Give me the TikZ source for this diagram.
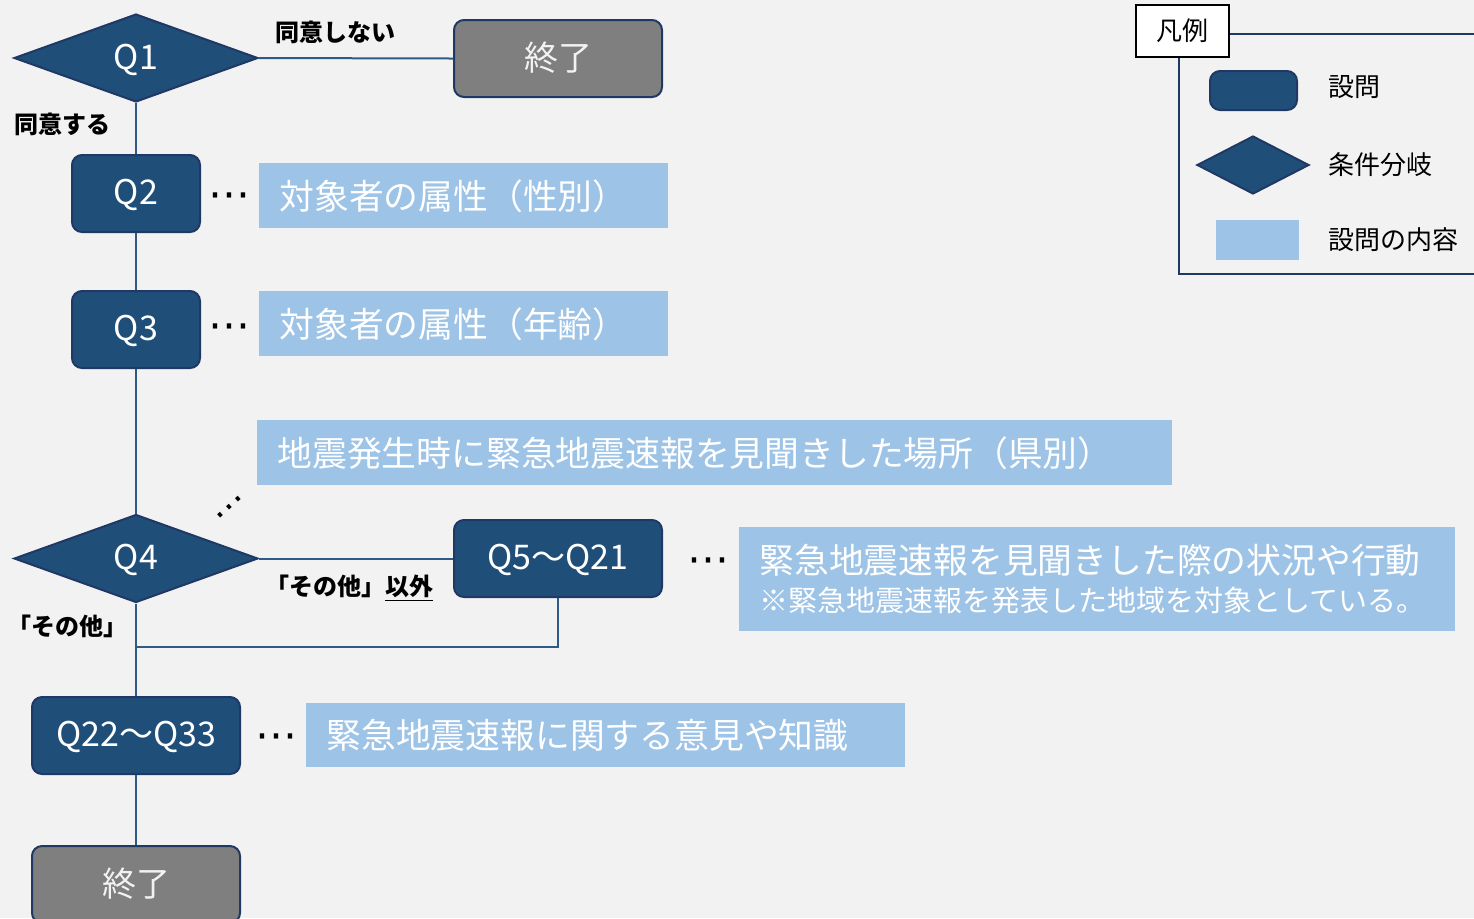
\documentclass[tikz,border=0pt]{standalone}
\usepackage{fontspec}
\setmainfont{Noto Sans CJK JP}
\newfontfamily\symfont{DejaVu Sans}
\usetikzlibrary{shapes.geometric}
\definecolor{bg}{HTML}{F2F2F2}
\definecolor{navy}{HTML}{1F4E79}
\definecolor{navyline}{HTML}{1F3864}
\definecolor{conn}{HTML}{2E5A88}
\definecolor{lightb}{HTML}{9DC3E6}
\definecolor{greybox}{HTML}{7F7F7F}
\tikzset{
  qbox/.style={draw=navyline, line width=1pt, fill=navy, rounded corners=5pt, text=white,
    font=\fontsize{17}{20}\selectfont, inner sep=0pt, minimum height=38.5pt,
    text height=11pt, text depth=0pt},
  endbox/.style={qbox, fill=greybox, text=bg, text height=12pt},
  qdia/.style={diamond, draw=navyline, line width=1pt, fill=navy, text=white,
    font=\fontsize{17}{20}\selectfont, inner sep=0pt, minimum width=122pt, minimum height=44pt,
    text height=11pt, text depth=0pt},
  desc/.style={fill=lightb, text=white, anchor=north west, inner xsep=10pt, inner ysep=0pt,
    align=left, font=\fontsize{17.4}{20}\selectfont},
  conn/.style={draw=conn, line width=1pt},
  lbl/.style={font=\fontsize{12}{14}\selectfont\bfseries, text=black, inner sep=0pt},
  dots/.style={font=\symfont\fontsize{21}{22}\selectfont, text=black, inner sep=0pt},
  legtxt/.style={font=\fontsize{13}{15}\selectfont, text=black, anchor=west, inner sep=0pt},
}
\begin{document}
\begin{tikzpicture}[x=0.5pt,y=-0.5pt]
\useasboundingbox (0,0) rectangle (1474,918);
\clip (0,0) rectangle (1474,918);
\fill[bg] (0,0) rectangle (1474,918);

% legend
\draw[navyline, line width=1.2pt] (1179,34) rectangle (1490,274);
\node[draw=black, line width=0.8pt, fill=white, minimum width=46.5pt, minimum height=26pt, inner sep=0pt,
  font=\fontsize{13}{15}\selectfont] (leg) at (1182.5,31) {凡例};
\node[qbox, minimum width=43.5pt, minimum height=19.5pt] (legq) at (1253.5,90.5) {};
\node[qdia, minimum width=56pt, minimum height=29pt] (legd) at (1253,165) {};
\node[fill=lightb, minimum width=41.5pt, minimum height=20pt, inner sep=0pt] (legc) at (1257.5,240) {};
\node[legtxt] (legqt) at (1328,87) {設問};
\node[legtxt] (legdt) at (1328,165) {条件分岐};
\node[legtxt] (legct) at (1328,240) {設問の内容};

% main flow nodes
\node[qdia] (q1) at (136,58) {Q1};
\node[endbox, minimum width=104pt] (end1) at (558,58.5) {終了};
\node[qbox, minimum width=64pt] (q2) at (136,193.5) {Q2};
\node[qbox, minimum width=64pt] (q3) at (136,329.5) {Q3};
\node[qdia] (q4) at (136,558.5) {Q4};
\node[qbox, minimum width=104pt] (q5) at (558,558.5) {Q5～Q21};
\node[qbox, minimum width=104pt] (q22) at (136,735.5) {Q22～Q33};
\node[endbox, minimum width=104pt] (end2) at (136,884.5) {終了};
\coordinate (join) at (136,647);

% descriptions
\node[desc, text width=184.5pt, minimum height=32.5pt] (d2) at (259,163) {対象者の属性（性別）};
\node[desc, text width=184.5pt, minimum height=32.5pt] (d3) at (259,291) {対象者の属性（年齢）};
\node[desc, text width=437.5pt, minimum height=32.5pt] (dpl) at (257,420) {地震発生時に緊急地震速報を見聞きした場所（県別）};
\node[desc, text width=338pt, minimum height=52pt] (d5) at (739,527)
  {緊急地震速報を見聞きした際の状況や行動\\[-1pt]{\fontsize{14.5}{16}\selectfont ※緊急地震速報を発表した地域を対象としている。}};
\node[desc, text width=279.5pt, minimum height=32pt] (d22) at (306,703) {緊急地震速報に関する意見や知識};

% ellipses
\node[dots] (e2) at (229,201) {⋯};
\node[dots] (e3) at (229,332) {⋯};
\node[dots, rotate=42, font=\symfont\fontsize{18}{20}\selectfont] (epl) at (232,510) {⋯};
\node[dots] (e5) at (708,566) {⋯};
\node[dots] (e22) at (276,742) {⋯};

% connectors
\draw[conn] (q1.east) -- (end1.west);
\draw[conn] (q1.south) -- (q2.north);
\draw[conn] (q2.south) -- (q3.north);
\draw[conn] (q3.south) -- (q4.north);
\draw[conn] (q4.east) -- (q5.west);
\draw[conn] (q4.south) -- (q22.north);
\draw[conn] (q5.south) |- (join);
\draw[conn] (q22.south) -- (end2.north);

% labels
\node[lbl] (l1) at (335,32) {同意しない};
\node[lbl] (l2) at (63,124) {同意する};
\node[lbl] (l3) at (349,588) {「その他」\underline{以外}};
\node[lbl] (l4) at (68,626) {「その他」};
\end{tikzpicture}
\end{document}
